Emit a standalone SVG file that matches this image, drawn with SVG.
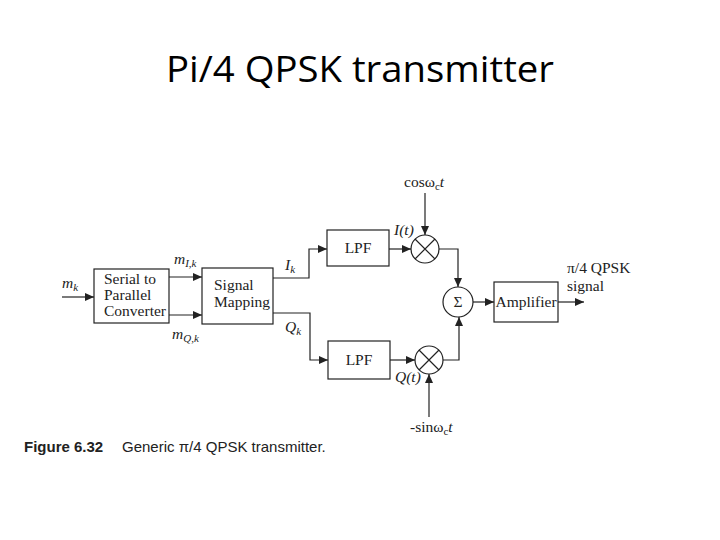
<svg xmlns="http://www.w3.org/2000/svg" width="720" height="540" viewBox="0 0 720 540">
<style>
.box{fill:#fff;stroke:#222;stroke-width:1.2}
.ln{fill:none;stroke:#222;stroke-width:1.2}
.t{font-family:"Liberation Serif",serif;font-size:15.5px;fill:#222}
.i{font-style:italic}
.s{font-size:11px}
.cap{font-family:"Liberation Sans",Arial,sans-serif;font-size:15px;fill:#222}
</style>
<defs>
<marker id="ah" markerWidth="9" markerHeight="8" refX="9" refY="4" orient="auto" markerUnits="userSpaceOnUse">
<path d="M0,0 L9,4 L0,8 Z" fill="#222"/>
</marker>
</defs>
<rect width="720" height="540" fill="#fff"/>
<text x="360" y="82" text-anchor="middle" font-family="'Open Sans','Liberation Sans',sans-serif" font-size="36" fill="#000" textLength="388" lengthAdjust="spacingAndGlyphs">Pi/4 QPSK transmitter</text>

<g id="connectors">
<path class="ln" d="M62,297 H94" marker-end="url(#ah)"/>
<path class="ln" d="M169,277 H202" marker-end="url(#ah)"/>
<path class="ln" d="M169,315 H202" marker-end="url(#ah)"/>
<path class="ln" d="M273,278 H309 V249 H327" marker-end="url(#ah)"/>
<path class="ln" d="M273,313 H310 V360 H328" marker-end="url(#ah)"/>
<path class="ln" d="M389,249 H411" marker-end="url(#ah)"/>
<path class="ln" d="M390,360 H415" marker-end="url(#ah)"/>
<path class="ln" d="M425,193 V235" marker-end="url(#ah)"/>
<path class="ln" d="M429,417 V374" marker-end="url(#ah)"/>
<path class="ln" d="M439,249 H458 V287" marker-end="url(#ah)"/>
<path class="ln" d="M443,360 H459 V317" marker-end="url(#ah)"/>
<path class="ln" d="M473,302 H494" marker-end="url(#ah)"/>
<path class="ln" d="M558,302 H584" marker-end="url(#ah)"/>
</g>

<g id="serial">
<rect class="box" x="94" y="269" width="75" height="54"/>
<text class="t" x="104" y="284" font-size="15">Serial to</text>
<text class="t" x="104" y="300" font-size="15">Parallel</text>
<text class="t" x="104" y="316" font-size="15">Converter</text>
</g>
<g id="mapping">
<rect class="box" x="202" y="268" width="71" height="56"/>
<text class="t" x="214" y="290">Signal</text>
<text class="t" x="214" y="307">Mapping</text>
</g>
<g id="lpf1">
<rect class="box" x="327" y="230" width="62" height="36"/>
<text class="t" x="358" y="253" text-anchor="middle">LPF</text>
</g>
<g id="lpf2">
<rect class="box" x="328" y="341" width="62" height="38"/>
<text class="t" x="359" y="365" text-anchor="middle">LPF</text>
</g>
<g id="mult1">
<circle class="box" cx="425" cy="249" r="14"/>
<path class="ln" d="M415,239 L435,259 M435,239 L415,259"/>
</g>
<g id="mult2">
<circle class="box" cx="429" cy="360" r="14"/>
<path class="ln" d="M419,350 L439,370 M439,350 L419,370"/>
</g>
<g id="sum">
<circle class="box" cx="458" cy="302" r="15"/>
<text class="t" x="458" y="307" text-anchor="middle">Σ</text>
</g>
<g id="amp">
<rect class="box" x="494" y="282" width="64" height="40"/>
<text class="t" x="526" y="307" text-anchor="middle">Amplifier</text>
</g>

<g id="labels">
<text class="t i" x="62" y="288">m<tspan class="s" dy="3">k</tspan></text>
<text class="t i" x="174" y="264">m<tspan class="s" dy="3">I,k</tspan></text>
<text class="t i" x="172" y="339">m<tspan class="s" dy="3">Q,k</tspan></text>
<text class="t i" x="285" y="270">I<tspan class="s" dy="3">k</tspan></text>
<text class="t i" x="285" y="332">Q<tspan class="s" dy="3">k</tspan></text>
<text class="t i" x="394" y="235">I(t)</text>
<text class="t i" x="395" y="382">Q(t)</text>
<text class="t" x="404" y="187">cosω<tspan class="s" dy="3">c</tspan><tspan class="i" dy="-3">t</tspan></text>
<text class="t" x="410" y="432">-sinω<tspan class="s" dy="3">c</tspan><tspan class="i" dy="-3">t</tspan></text>
<text class="t" x="567" y="273">π/4 QPSK</text>
<text class="t" x="567" y="291">signal</text>
</g>
<text class="cap" x="24" y="452"><tspan font-weight="bold">Figure 6.32</tspan><tspan x="122">Generic π/4 QPSK transmitter.</tspan></text>
</svg>
